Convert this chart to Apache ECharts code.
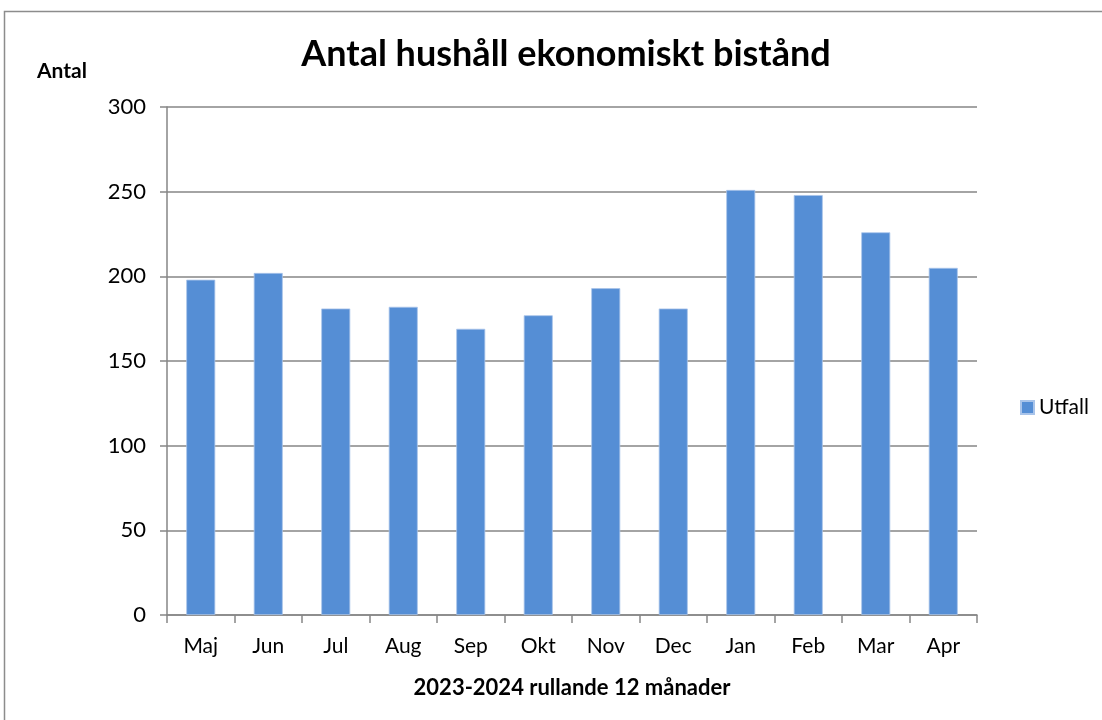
<!DOCTYPE html>
<html>
<head>
<meta charset="utf-8">
<script src="https://cdn.jsdelivr.net/npm/echarts@6/dist/echarts.min.js"></script>
<style>
  html, body { margin: 0; padding: 0; background: #fff; }
  #main { width: 1102px; height: 720px; }
</style>
</head>
<body>
<div id="main"></div>
<script>
const months = ["Maj", "Jun", "Jul", "Aug", "Sep", "Okt", "Nov", "Dec", "Jan", "Feb", "Mar", "Apr"];
const utfall = [198, 202, 181, 182, 169, 177, 193, 181, 251, 248, 226, 205];
const yTicks = [0, 50, 100, 150, 200, 250, 300];

const font = "Lato, 'Open Sans', sans-serif";
const myChart = echarts.init(document.getElementById("main"));

const option = {
  animation: false,
  textStyle: { fontFamily: font },
  graphic: [
    {
      type: "rect",
      shape: { x: 4.5, y: 11.5, width: 1200, height: 800 },
      style: { fill: "none", stroke: "#8c8c8c", lineWidth: 1.5 },
    },
  ],
  title: {
    text: "Antal hushåll ekonomiskt bistånd",
    left: 561,
    top: 31,
    textAlign: "center",
    textStyle: { fontSize: 36, fontWeight: "bold", color: "#000", fontFamily: font },
  },
  legend: {
    data: ["Utfall"],
    left: 1015,
    top: 392,
    orient: "vertical",
    itemWidth: 13,
    itemHeight: 13,
    itemGap: 6,
    icon: "rect",
    textStyle: { fontSize: 21, color: "#000", fontFamily: font },
  },
  grid: {
    left: 167,
    right: 1102 - 977,
    top: 107,
    bottom: 720 - 615,
    containLabel: false,
  },
  xAxis: {
    type: "category",
    data: months,
    name: "2023-2024 rullande 12 månader",
    nameLocation: "middle",
    nameGap: 62,
    nameTextStyle: { fontSize: 22, fontWeight: "bold", color: "#000", fontFamily: font },
    axisLine: { lineStyle: { color: "#868686", width: 1.5 } },
    axisTick: { show: true, length: 8, alignWithLabel: false, lineStyle: { color: "#868686", width: 1.5 } },
    axisLabel: { fontSize: 21, color: "#000", margin: 21, fontFamily: font },
  },
  yAxis: {
    type: "value",
    min: yTicks[0],
    max: yTicks[yTicks.length - 1],
    interval: yTicks[1] - yTicks[0],
    name: "Antal",
    nameLocation: "end",
    nameGap: 25,
    nameTextStyle: { fontSize: 21, fontWeight: "bold", color: "#000", align: "left", padding: [0, 0, 0, -130], fontFamily: font },
    axisLine: { show: true, lineStyle: { color: "#868686", width: 1.5 } },
    axisTick: { show: true, length: 7, lineStyle: { color: "#868686", width: 1.5 } },
    axisLabel: { fontSize: 22, color: "#000", margin: 21, fontFamily: font },
    splitLine: { lineStyle: { color: "#868686", width: 1.5 } },
  },
  series: [
    {
      name: "Utfall",
      type: "bar",
      data: utfall,
      barWidth: 29,
      itemStyle: { color: "#558ed5", borderColor: "#a9c4ea", borderWidth: 0.8 },
    },
  ],
};

myChart.setOption(option);
</script>
</body>
</html>
